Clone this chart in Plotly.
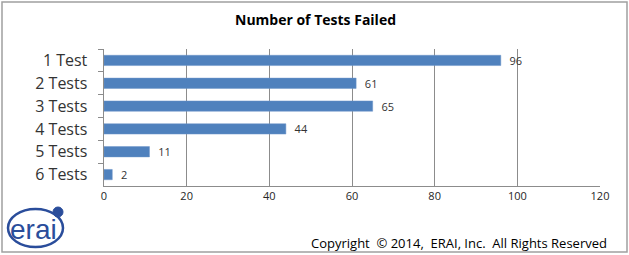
import plotly.graph_objects as go

categories = ["1 Test", "2 Tests", "3 Tests", "4 Tests", "5 Tests", "6 Tests"]
values = [96, 61, 65, 44, 11, 2]
x_ticks = [0, 20, 40, 60, 80, 100, 120]
title = "Number of Tests Failed"
copyright_text = "Copyright  © 2014,  ERAI, Inc.  All Rights Reserved"

W, H = 629, 255
ML, MR, MT, MB = 104, 29, 49, 69
PW, PH = W - ML - MR, H - MT - MB


def px(x):
    return (x - ML) / PW


def py(y):
    return (H - MB - y) / PH


fig = go.Figure()
fig.add_trace(go.Bar(
    x=values, y=categories, orientation="h",
    marker=dict(color="#4F81BD", line=dict(color="#6C95C9", width=0.5)),
    text=["  " + str(v) for v in values], textposition="outside", constraintext="none",
    textfont=dict(family="Open Sans, Liberation Sans, sans-serif", size=11, color="#333333"),
    cliponaxis=False, hoverinfo="skip",
))

shapes = [
    # outer border
    dict(type="rect", xref="paper", yref="paper",
         x0=px(2), x1=px(627), y0=py(252), y1=py(2),
         line=dict(color="#A0A0A0", width=1.5), layer="below"),
    # logo swoosh
    dict(type="circle", xref="paper", yref="paper",
         x0=px(8), x1=px(63), y0=py(247), y1=py(209),
         line=dict(color="#2A4D9B", width=2.5)),
    dict(type="circle", xref="paper", yref="paper",
         x0=px(53), x1=px(63), y0=py(217), y1=py(207),
         fillcolor="#2A4D9B", line=dict(color="#2A4D9B", width=1)),
]

annotations = [
    dict(text="<b>" + title + "</b>", xref="paper", yref="paper",
         x=px(315), y=py(20), xanchor="center", yanchor="middle", showarrow=False,
         font=dict(family="Open Sans, Liberation Sans, sans-serif", size=14, color="#000000")),
    dict(text=copyright_text, xref="paper", yref="paper",
         x=px(609), y=py(243), xanchor="right", yanchor="middle", showarrow=False,
         font=dict(family="Open Sans, Liberation Sans, sans-serif", size=13, color="#000000")),
    dict(text="erai", xref="paper", yref="paper",
         x=px(33), y=py(229), xanchor="center", yanchor="middle", showarrow=False,
         font=dict(family="Liberation Sans Narrow, Liberation Sans, sans-serif", size=28, color="#2A4D9B")),
]

fig.update_layout(
    width=W, height=H,
    margin=dict(l=ML, r=MR, t=MT, b=MB),
    paper_bgcolor="white", plot_bgcolor="white",
    showlegend=False, bargap=0.55,
    shapes=shapes, annotations=annotations,
    xaxis=dict(
        range=[0, 120], tickvals=x_ticks, showgrid=True, gridcolor="#8C8C8C", gridwidth=1,
        showline=True, linecolor="#8C8C8C", linewidth=1, ticks="", zeroline=False,
        tickfont=dict(family="Open Sans, Liberation Sans, sans-serif", size=11, color="#262626"),
        fixedrange=True,
    ),
    yaxis=dict(
        categoryorder="array", categoryarray=categories, autorange="reversed",
        showgrid=False, showline=True, linecolor="#8C8C8C", linewidth=1,
        ticks="outside", ticklen=5, tickcolor="#8C8C8C", tickson="boundaries",
        tickfont=dict(family="Open Sans, Liberation Sans, sans-serif", size=16, color="#333333"),
        ticksuffix="   ", fixedrange=True,
    ),
)

fig.write_html("out.html")
